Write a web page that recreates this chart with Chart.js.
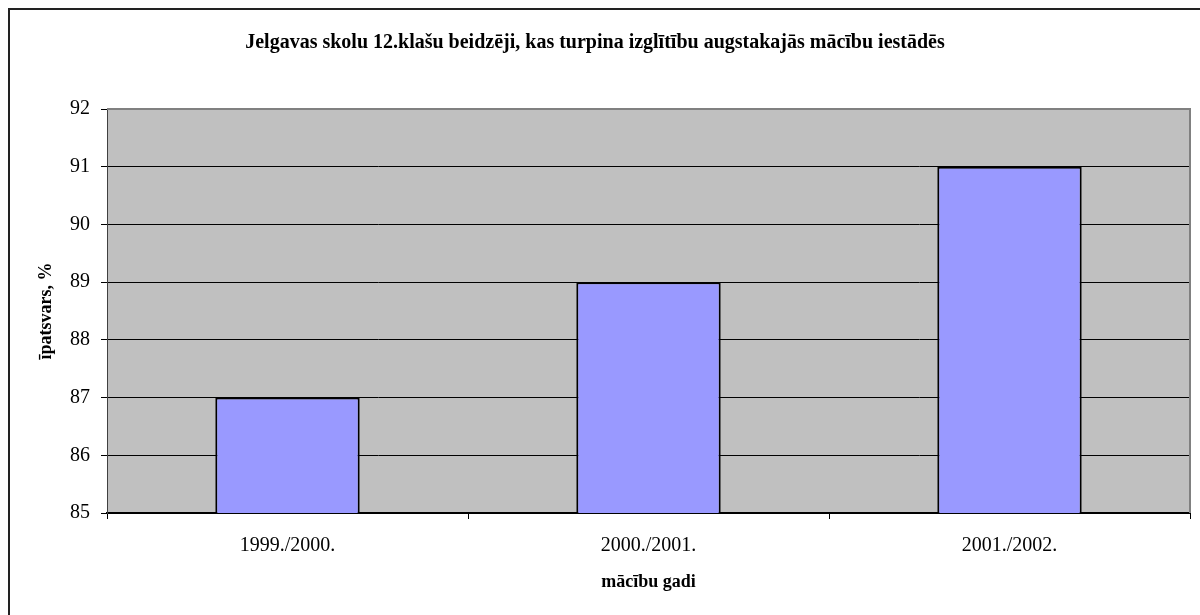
<!DOCTYPE html>
<html>
<head>
<meta charset="utf-8">
<script src="https://cdn.jsdelivr.net/npm/chart.js@4"></script>
<style>
  html, body { margin: 0; padding: 0; background: #fff; }
  #wrap { position: relative; width: 1200px; height: 615px; overflow: hidden; }
  #frame { position: absolute; left: 8px; top: 8px; width: 1400px; height: 800px;
           border-left: 2px solid #222; border-top: 2px solid #222; pointer-events: none; }
  canvas { position: absolute; left: 0; top: 0; }
</style>
</head>
<body>
<div id="wrap">
  <canvas id="chart" width="1200" height="615"></canvas>
  <div id="frame"></div>
</div>
<script>
// chart data
const years = ['1999./2000.', '2000./2001.', '2001./2002.'];
const shares = [87, 89, 91];
const yTicks = [85, 86, 87, 88, 89, 90, 91, 92];

const serif = "'Liberation Serif', 'Times New Roman', serif";

// grey plot background plus the grey frame on top/right
const plotFrame = {
  id: 'plotFrame',
  beforeDraw(chart) {
    const { ctx, chartArea: a } = chart;
    ctx.save();
    ctx.fillStyle = '#c0c0c0';
    ctx.fillRect(a.left, a.top, a.right - a.left, a.bottom - a.top);
    ctx.restore();
  },
  afterDraw(chart) {
    const { ctx, chartArea: a } = chart;
    ctx.save();
    ctx.strokeStyle = '#808080';
    ctx.lineWidth = 2;
    ctx.beginPath();
    ctx.moveTo(a.left, a.top);
    ctx.lineTo(a.right, a.top);
    ctx.lineTo(a.right, a.bottom);
    ctx.stroke();
    ctx.restore();
  }
};

new Chart(document.getElementById('chart').getContext('2d'), {
  type: 'bar',
  data: {
    labels: years,
    datasets: [{
      data: shares,
      backgroundColor: '#9999ff',
      borderColor: '#000',
      borderWidth: 2,
      borderSkipped: 'bottom',
      barPercentage: 0.4,
      categoryPercentage: 1
    }]
  },
  options: {
    responsive: false,
    animation: false,
    layout: { padding: { left: 0, right: 10, top: 0, bottom: 0 } },
    plugins: {
      legend: { display: false },
      tooltip: { enabled: false },
      title: {
        display: true,
        text: 'Jelgavas skolu 12.klašu beidzēji, kas turpina izglītību augstakajās mācību iestādēs',
        color: '#000',
        font: { family: serif, size: 20, weight: 'bold', lineHeight: 1.2 },
        padding: { top: 31, bottom: 54 }
      }
    },
    scales: {
      x: {
        afterFit: s => { s.height = 102; },
        grid: { offset: true, drawOnChartArea: false, tickLength: 6, color: '#000', lineWidth: 1 },
        border: { color: '#000', width: 2 },
        ticks: { color: '#000', font: { family: serif, size: 20 }, padding: 15 },
        title: {
          display: true, text: 'mācību gadi', color: '#000',
          font: { family: serif, size: 18, weight: 'bold', lineHeight: 1.2 },
          padding: { top: 0, bottom: 22 }
        }
      },
      y: {
        min: yTicks[0],
        max: yTicks[yTicks.length - 1],
        afterFit: s => { s.width = 107; },
        afterBuildTicks: s => { s.ticks = yTicks.map(v => ({ value: v })); },
        grid: { color: '#000', lineWidth: 1, tickLength: 6 },
        border: { color: '#404040', width: 1 },
        ticks: { color: '#000', font: { family: serif, size: 20 }, padding: 11 },
        title: {
          display: true, text: 'īpatsvars, %', color: '#000',
          font: { family: serif, size: 18, weight: 'bold', lineHeight: 1.2 },
          padding: { top: 36, bottom: 0 }
        }
      }
    }
  },
  plugins: [plotFrame]
});
</script>
</body>
</html>
